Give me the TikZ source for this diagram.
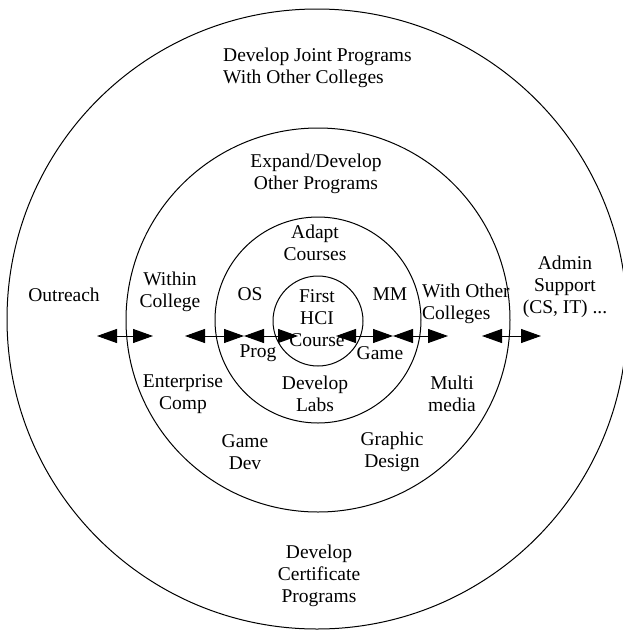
\documentclass[tikz,border=0pt]{standalone}
\usepackage{fontspec}
\setmainfont{Liberation Serif}
\usetikzlibrary{arrows.meta}
\begin{document}
\begin{tikzpicture}[x=1pt,y=-1pt,
  lbl/.style={font=\fontsize{19.5}{22}\selectfont, align=center, inner sep=0pt},
  lbll/.style={font=\fontsize{19.5}{22}\selectfont, align=left, inner sep=0pt},
  ring/.style={draw, line width=1pt},
  dbl/.style={{Triangle[length=20pt,width=14pt]}-{Triangle[length=20pt,width=14pt]}, line width=1pt}]
\useasboundingbox (0,0) rectangle (623,630);
\fill[white] (0,0) rectangle (623,630);
% centres
\coordinate (co) at (317,319);
\coordinate (cm) at (318,320);
\coordinate (ci) at (318,321);
% rings
\draw[ring] (co) circle[radius=310pt];
\draw[ring] (cm) circle[radius=192pt];
\draw[ring] (cm) circle[radius=103pt];
\draw[ring] (ci) circle[radius=45pt];
% labels
\node[lbll, anchor=west] (joint) at (223,68) {Develop Joint Programs\\With Other Colleges};
\node[lbl] (expand) at (316,174) {Expand/Develop\\Other Programs};
\node[lbl] (adapt) at (315,243) {Adapt\\Courses};
\node[lbl] (outreach) at (64,295) {Outreach};
\node[lbl] (within) at (170,292) {Within\\College};
\node[lbl] (os) at (250,294) {OS};
\node[lbl] (first) at (317,318) {First\\HCI\\Course};
\node[lbl] (mm) at (390,294) {MM};
\node[lbll, anchor=west] (withother) at (422,304) {With Other\\Colleges};
\node[lbl] (admin) at (565,287) {Admin\\Support\\(CS, IT) ...};
\node[lbl] (prog) at (258,353) {Prog};
\node[lbl] (game) at (380,353) {Game};
\node[lbl] (enterprise) at (183,394) {Enterprise\\Comp};
\node[lbl] (labs) at (315,394) {Develop\\Labs};
\node[lbl] (multi) at (452,394) {Multi\\media};
\node[lbl] (gamedev) at (245,452) {Game\\Dev};
\node[lbl] (graphic) at (392,452) {Graphic\\Design};
\node[lbl] (cert) at (319,576) {Develop\\Certificate\\Programs};
% arrow ends
\coordinate (a1l) at (97,336);  \coordinate (a1r) at (153,336);
\coordinate (a2l) at (185,336); \coordinate (a2r) at (244,336);
\coordinate (a3l) at (244,336); \coordinate (a3r) at (298,336);
\coordinate (a4l) at (336,336); \coordinate (a4r) at (393,336);
\coordinate (a5l) at (393,336); \coordinate (a5r) at (448,336);
\coordinate (a6l) at (482,336); \coordinate (a6r) at (541,336);
\draw[dbl] (a1l) -- (a1r);
\draw[dbl] (a2l) -- (a2r);
\draw[dbl] (a3l) -- (a3r);
\draw[dbl] (a4l) -- (a4r);
\draw[dbl] (a5l) -- (a5r);
\draw[dbl] (a6l) -- (a6r);
\end{tikzpicture}
\end{document}
